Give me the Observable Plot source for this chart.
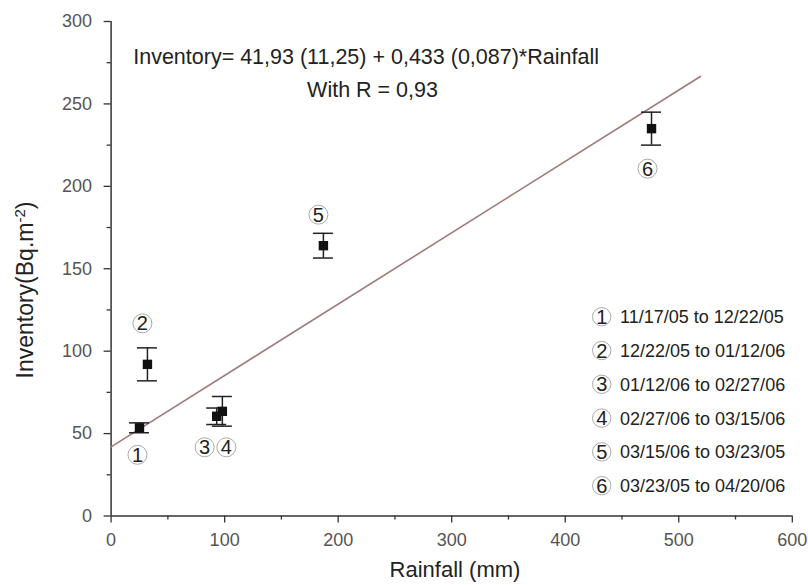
<!DOCTYPE html>
<html><head><meta charset="utf-8">
<script src="https://cdn.jsdelivr.net/npm/d3@7"></script>
<script src="https://cdn.jsdelivr.net/npm/@observablehq/plot@0.6"></script>
<style>
body{margin:0;background:#fff}
#chart{position:relative;width:808px;height:585px}
</style>
</head><body><div id="chart"></div>
<script>
// ---- data ----
const ids = [1, 2, 3, 4, 5, 6];
const periods = ["11/17/05 to 12/22/05", "12/22/05 to 01/12/06", "01/12/06 to 02/27/06",
                 "02/27/06 to 03/15/06", "03/15/06 to 03/23/05", "03/23/05 to 04/20/06"];
const rainfall  = [25, 32, 93, 98, 187, 476];      // mm
const inventory = [53.5, 92, 60.5, 63.5, 164, 235]; // Bq.m-2
const errors    = [3, 10, 5, 9, 7.5, 10];
const fitIntercept = 41.93, fitSlope = 0.433, fitRange = [0, 519];
const eqLine1 = "Inventory= 41,93 (11,25) + 0,433 (0,087)*Rainfall";
const eqLine2 = "With R = 0,93";
const xTicks = [0, 100, 200, 300, 400, 500, 600];
const xMinor = [50, 150, 250, 350, 450, 550];
const yTicks = [0, 50, 100, 150, 200, 250, 300];
const yMinor = [25, 75, 125, 175, 225, 275];
const xLabel = "Rainfall (mm)";

// ---- styling / placement ----
const labelOffsets = [[-2, 27], [-5, -41], [-12, 31], [4, 36], [-5, -31], [-4, 40]];
const FONT = "'Liberation Sans', Arial, sans-serif";

const points = ids.map((id, i) => ({id, x: rainfall[i], y: inventory[i], err: errors[i], period: periods[i]}));
const fit = fitRange.map(x => ({x, y: fitIntercept + fitSlope * x}));

const axisStyle = {stroke: "#333", fill: "#555", fontSize: 18, label: null};

const svg = Plot.plot({
  width: 808, height: 585,
  marginLeft: 110.6, marginRight: 16.2, marginTop: 21, marginBottom: 69.5,
  style: {fontFamily: FONT, background: "#fff", overflow: "visible"},
  x: {domain: [0, 600]},
  y: {domain: [0, 300]},
  marks: [
    Plot.axisX({ticks: xTicks, tickSize: 7, tickPadding: 10.5, strokeWidth: 1.3, ...axisStyle}),
    Plot.axisX({ticks: xMinor, tickSize: 4, tickFormat: () => "", strokeWidth: 1.3, ...axisStyle}),
    Plot.axisY({ticks: yTicks, tickSize: 7, tickPadding: 12, strokeWidth: 1.3, ...axisStyle}),
    Plot.axisY({ticks: yMinor, tickSize: 4, tickFormat: () => "", strokeWidth: 1.3, ...axisStyle}),
    Plot.ruleY([0], {stroke: "#333", strokeWidth: 1.5}),
    Plot.ruleX([0], {stroke: "#333", strokeWidth: 1.5}),
    Plot.line(fit, {x: "x", y: "y", stroke: "#a07a76", strokeWidth: 1.6}),
    Plot.ruleX(points, {x: "x", y1: d => d.y - d.err, y2: d => d.y + d.err, stroke: "#222", strokeWidth: 1.5}),
    Plot.ruleY(points, {x1: "x", x2: "x", y: d => d.y + d.err, insetLeft: -10, insetRight: -10, stroke: "#222", strokeWidth: 1.5}),
    Plot.ruleY(points, {x1: "x", x2: "x", y: d => d.y - d.err, insetLeft: -10, insetRight: -10, stroke: "#222", strokeWidth: 1.5}),
    Plot.dot(points, {x: "x", y: "y", symbol: "square", r: 5.3, fill: "#111"}),
    ...points.flatMap((p, i) => [
      Plot.dot([p], {x: "x", y: "y", dx: labelOffsets[i][0], dy: labelOffsets[i][1], r: 9.5, stroke: "#aaa", strokeWidth: 1, fill: "white"}),
      Plot.text([p], {x: "x", y: "y", dx: labelOffsets[i][0], dy: labelOffsets[i][1] + 0.5, text: d => String(d.id), fontSize: 20, fill: "#222"})
    ]),
    Plot.text([eqLine1], {frameAnchor: "top-left", dx: 22.1, dy: 42.3, text: d => d, textAnchor: "start", lineAnchor: "bottom", fontSize: 21.5, fill: "#222"}),
    Plot.text([eqLine2], {frameAnchor: "top-left", dx: 196, dy: 75.7, text: d => d, textAnchor: "start", lineAnchor: "bottom", fontSize: 21.5, fill: "#222"})
  ]
});

const s = d3.select(svg);
// x axis label
s.append("text").attr("x", 455).attr("y", 577).attr("text-anchor", "middle")
  .attr("font-size", 22).attr("fill", "#222").attr("font-family", FONT).text(xLabel);
// y axis label with superscript
const yl = s.append("text").attr("transform", "translate(33,290) rotate(-90)")
  .attr("text-anchor", "middle").attr("font-size", 23).attr("fill", "#222").attr("font-family", FONT);
yl.append("tspan").text("Inventory(Bq.m");
yl.append("tspan").attr("font-size", 15).attr("dy", "-0.55em").text("-2");
yl.append("tspan").attr("dy", "0.37em").text(")");

// legend
const lg = s.append("g").attr("font-family", FONT);
const legendTop = 316.7, legendStep = 33.8, circX = 601.7, textX = 620;
points.forEach((p, i) => {
  const cy = legendTop + i * legendStep;
  lg.append("circle").attr("cx", circX).attr("cy", cy).attr("r", 9.2).attr("fill", "white").attr("stroke", "#aaa");
  lg.append("text").attr("x", circX).attr("y", cy + 7).attr("text-anchor", "middle").attr("font-size", 20).attr("fill", "#222").text(p.id);
  lg.append("text").attr("x", textX).attr("y", cy + 6.5).attr("text-anchor", "start").attr("font-size", 18).attr("fill", "#222").text(p.period);
});

document.getElementById("chart").appendChild(svg);
</script>
</body></html>
